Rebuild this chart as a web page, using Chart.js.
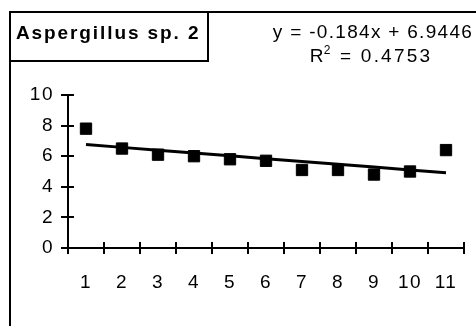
<!DOCTYPE html>
<html>
<head>
<meta charset="utf-8">
<script src="https://cdn.jsdelivr.net/npm/chart.js@4/dist/chart.umd.min.js"></script>
<style>
  html, body { margin: 0; padding: 0; background: #fff; }
  #wrap { width: 476px; height: 326px; position: relative; }
</style>
</head>
<body>
<div id="wrap"><canvas id="c" width="476" height="326"></canvas></div>
<script>
const categories = ['1', '2', '3', '4', '5', '6', '7', '8', '9', '10', '11'];
const values = [7.8, 6.5, 6.1, 6.0, 5.8, 5.7, 5.1, 5.1, 4.8, 5.0, 6.4];
const trendSlope = -0.184;
const trendIntercept = 6.9446;
const rSquared = 0.4753;
const chartTitle = 'Aspergillus sp. 2';
const yMin = 0, yMax = 10, yStep = 2;

const trendValues = categories.map((c, i) => trendIntercept + trendSlope * (i + 1));
const FONT = '"Liberation Sans", Arial, sans-serif';

const decor = {
  id: 'decor',
  beforeDraw(chart) {
    const ctx = chart.ctx;
    ctx.save();
    ctx.fillStyle = '#fff';
    ctx.fillRect(0, 0, chart.width, chart.height);
    ctx.strokeStyle = '#000';
    ctx.lineWidth = 2;
    ctx.beginPath();
    ctx.moveTo(10, chart.height);
    ctx.lineTo(10, 12);
    ctx.lineTo(chart.width, 12);
    ctx.stroke();
    ctx.strokeRect(10, 12, 198, 49);
    ctx.restore();
    ctx.letterSpacing = '1.5px';
  },
  afterDatasetsDraw(chart) {
    chart.ctx.letterSpacing = '0px';
  },
  afterDraw(chart) {
    const ctx = chart.ctx;
    const xs = chart.scales.x, ys = chart.scales.y;
    ctx.save();
    ctx.strokeStyle = '#000';
    ctx.lineWidth = 2;
    const ax = xs.left;
    ctx.beginPath();
    for (let v = yMin; v <= yMax; v += yStep) {
      const p = Math.round(ys.getPixelForValue(v));
      ctx.moveTo(ax - 7, p);
      ctx.lineTo(ax + 6, p);
    }
    const ay = ys.bottom;
    const n = categories.length;
    for (let k = 0; k <= n; k++) {
      const p = Math.round(xs.left + k * (xs.width / n));
      ctx.moveTo(p, ay - 6);
      ctx.lineTo(p, ay + 6);
    }
    ctx.stroke();

    ctx.fillStyle = '#000';
    ctx.textBaseline = 'middle';
    ctx.textAlign = 'left';
    ctx.font = 'bold 19px ' + FONT;
    ctx.letterSpacing = '1.9px';
    ctx.fillText(chartTitle, 16, 34);

    ctx.font = '19px ' + FONT;
    ctx.letterSpacing = '1.3px';
    const sign = trendIntercept >= 0 ? ' + ' : ' - ';
    const eq = 'y = ' + trendSlope + 'x' + sign + Math.abs(trendIntercept);
    ctx.textAlign = 'center';
    ctx.fillText(eq, 373, 33);

    ctx.textAlign = 'left';
    ctx.letterSpacing = '2.2px';
    const partR = 'R';
    const partSup = '2';
    const partRest = ' = ' + rSquared;
    ctx.font = '19px ' + FONT;
    const wR = ctx.measureText(partR).width;
    const wRest = ctx.measureText(partRest).width;
    ctx.font = '12px ' + FONT;
    const wSup = ctx.measureText(partSup).width;
    let x0 = 372 - (wR + wSup + wRest) / 2;
    const yRow = 57;
    ctx.font = '19px ' + FONT;
    ctx.fillText(partR, x0, yRow);
    x0 += wR - 2;
    ctx.font = '12px ' + FONT;
    ctx.fillText(partSup, x0, yRow - 6);
    x0 += wSup;
    ctx.font = '19px ' + FONT;
    ctx.fillText(partRest, x0, yRow);
    ctx.restore();
  }
};

new Chart(document.getElementById('c'), {
  type: 'line',
  data: {
    labels: categories,
    datasets: [
      {
        label: 'Trend',
        data: trendValues,
        borderColor: '#000',
        borderWidth: 3,
        pointRadius: 0,
        fill: false,
        tension: 0,
        order: 2
      },
      {
        label: chartTitle,
        data: values,
        showLine: false,
        pointStyle: 'rect',
        pointRadius: 8,
        pointBorderWidth: 1,
        pointBackgroundColor: '#000',
        pointBorderColor: '#000',
        order: 1
      }
    ]
  },
  options: {
    responsive: false,
    animation: false,
    devicePixelRatio: 1,
    layout: { padding: { top: 95, right: 12, bottom: 0, left: 0 } },
    plugins: { legend: { display: false }, title: { display: false }, tooltip: { enabled: false } },
    scales: {
      x: {
        type: 'category',
        offset: true,
        grid: { display: false, offset: true },
        border: { display: true, color: '#000', width: 2 },
        ticks: { color: '#000', font: { family: FONT, size: 19 }, padding: 15, maxRotation: 0, autoSkip: false },
        afterFit(s) { s.height = 78; }
      },
      y: {
        min: yMin,
        max: yMax,
        grid: { display: false },
        border: { display: true, color: '#000', width: 2 },
        ticks: { stepSize: yStep, color: '#000', font: { family: FONT, size: 19 }, padding: 6 },
        afterFit(s) { s.width = 68; }
      }
    }
  },
  plugins: [decor]
});
</script>
</body>
</html>
